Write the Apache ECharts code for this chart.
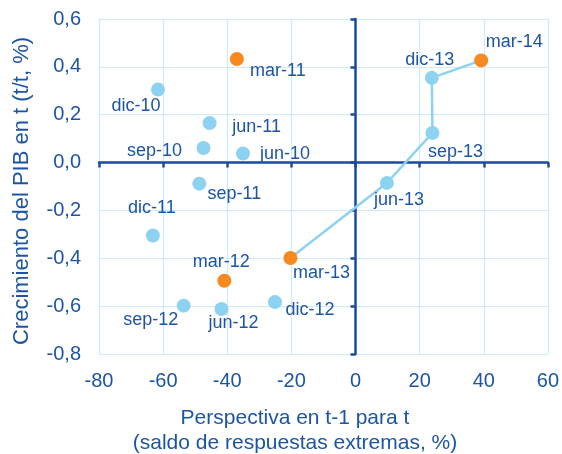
<!DOCTYPE html>
<html>
<head>
<meta charset="utf-8">
<script src="https://cdn.jsdelivr.net/npm/echarts@6/dist/echarts.min.js"></script>
<style>
html,body{margin:0;padding:0;background:#fff;}
#chart{width:562px;height:454px;}
</style>
</head>
<body>
<div id="chart"></div>
<script>
// ---- data ----
var quarters = ['jun-10','sep-10','dic-10','mar-11','jun-11','sep-11','dic-11','mar-12','jun-12','sep-12','dic-12','mar-13','jun-13','sep-13','dic-13','mar-14'];
var perspectiva = [-35.1,-47.4,-61.6,-37.0,-45.5,-48.7,-63.2,-40.9,-41.8,-53.6,-25.1,-20.3,9.8,24.0,23.8,39.2];
var crecimiento = [0.038,0.061,0.305,0.433,0.165,-0.088,-0.305,-0.494,-0.612,-0.598,-0.583,-0.399,-0.085,0.124,0.354,0.427];
var pathQuarters = ['mar-13','jun-13','sep-13','dic-13','mar-14'];
var xTicks = {min:-80, max:60, step:20};
var yTicks = {min:-0.8, max:0.6, step:0.2};
var xTitle = ['Perspectiva en t-1 para t','(saldo de respuestas extremas, %)'];
var yTitle = 'Crecimiento del PIB en t (t/t, %)';

// ---- styles / label placement ----
var TXT = '#1D55A6', AX = '#1A4C9C', GRID = '#CDEBF8', BLUE = '#8DD3F1', ORANGE = '#F7891F';
var FONT = 'Liberation Sans, Arial, sans-serif';
var labelOffset = {
  'jun-10':[42,1],'sep-10':[-49,3],'dic-10':[-22,16],'mar-11':[41,12],'jun-11':[47,4],
  'sep-11':[35,10],'dic-11':[-1,-28],'mar-12':[-3,-19],'jun-12':[12,14],'sep-12':[-33,14],
  'dic-12':[35,8],'mar-13':[31,15],'jun-13':[12,17],'sep-13':[23,19],'dic-13':[-2,-18],'mar-14':[33,-18]
};

var pointData = quarters.map(function(q,i){
  var isMar = q.indexOf('mar') === 0;
  return {
    name: q,
    value: [perspectiva[i], crecimiento[i]],
    itemStyle: {color: isMar ? ORANGE : BLUE, opacity:1},
    label: {offset: labelOffset[q]}
  };
});
var pathData = pathQuarters.map(function(q){
  var i = quarters.indexOf(q);
  return [perspectiva[i], crecimiento[i]];
});

function fmtY(v){ return (Math.round(v*10)/10).toFixed(1).replace('.',','); }

var chart = echarts.init(document.getElementById('chart'), null, {renderer:'canvas'});
var baseX = {type:'value', min:xTicks.min, max:xTicks.max, interval:xTicks.step};
var baseY = {type:'value', min:yTicks.min, max:yTicks.max, interval:yTicks.step};
chart.setOption({
  animation:false,
  grid:{left:99, right:13, top:19, bottom:100, containLabel:false},
  xAxis:[
    Object.assign({}, baseX, {
      position:'bottom',
      axisLine:{show:false, onZero:false},
      axisTick:{show:false},
      axisLabel:{color:TXT, fontSize:20, fontFamily:FONT, margin:17},
      splitLine:{show:true, lineStyle:{color:GRID, width:1.2}}
    }),
    Object.assign({}, baseX, {
      position:'bottom',
      axisLine:{show:true, onZero:true, lineStyle:{color:AX, width:2.5}},
      axisTick:{show:true, length:5, lineStyle:{color:AX, width:2.5}},
      axisLabel:{show:false},
      splitLine:{show:false}
    })
  ],
  yAxis:[
    Object.assign({}, baseY, {
      position:'left',
      axisLine:{show:false, onZero:false},
      axisTick:{show:false},
      axisLabel:{color:TXT, fontSize:20, fontFamily:FONT, margin:18, formatter:fmtY},
      splitLine:{show:true, lineStyle:{color:GRID, width:1.2}}
    }),
    Object.assign({}, baseY, {
      position:'left',
      axisLine:{show:true, onZero:true, lineStyle:{color:AX, width:2.5}},
      axisTick:{show:true, length:5, lineStyle:{color:AX, width:2.5}},
      axisLabel:{show:false},
      splitLine:{show:false}
    })
  ],
  series:[
    {
      type:'line', xAxisIndex:0, yAxisIndex:0,
      data:pathData, showSymbol:false, symbol:'none',
      lineStyle:{color:BLUE, width:2.5}, z:3, silent:true
    },
    {
      type:'scatter', xAxisIndex:0, yAxisIndex:0,
      data:pointData, symbolSize:14, z:4,
      itemStyle:{opacity:1},
      label:{show:true, position:'inside', formatter:'{b}', color:TXT, fontSize:18, opacity:1,
             fontFamily:FONT, align:'center', verticalAlign:'middle', textBorderWidth:0}
    }
  ],
  graphic:[
    {type:'text', x:295, y:418, style:{text:xTitle[0], fill:TXT, font:'21px '+FONT, textAlign:'center', textVerticalAlign:'middle'}},
    {type:'text', x:295, y:443, style:{text:xTitle[1], fill:TXT, font:'21px '+FONT, textAlign:'center', textVerticalAlign:'middle'}},
    {type:'text', x:22, y:191, rotation:Math.PI/2, style:{text:yTitle, fill:TXT, font:'22px '+FONT, textAlign:'center', textVerticalAlign:'middle'}}
  ]
});
</script>
</body>
</html>
